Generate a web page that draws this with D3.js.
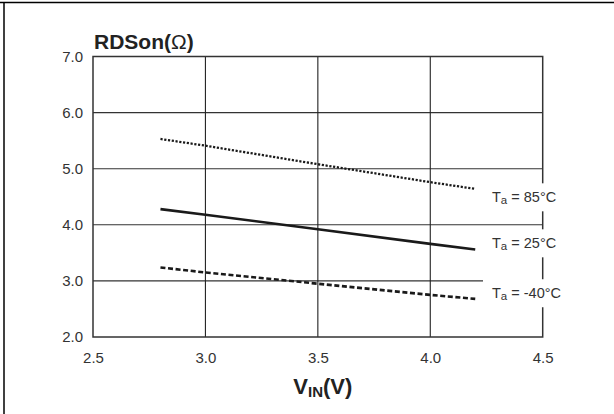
<!DOCTYPE html>
<html><head><meta charset="utf-8">
<script src="https://cdn.jsdelivr.net/npm/d3@7"></script>
<style>
html,body{margin:0;padding:0;background:#fff;}
svg{display:block;}
text{font-family:"Liberation Sans",Arial,Helvetica,sans-serif;}
</style></head>
<body>
<svg id="chart" width="614" height="414"></svg>
<script>
// ---- data ----
const vin = [2.8, 3.0, 3.5, 4.0, 4.2];
const rds85 = [5.53, 5.41, 5.08, 4.76, 4.64];
const rds25 = [4.28, 4.18, 3.92, 3.66, 3.56];
const rdsM40 = [3.24, 3.15, 2.95, 2.75, 2.68];
const seriesNames = ["85°C", "25°C", "-40°C"];
const labelAt = [4.49, 3.67, 2.78];        // label vertical positions in data units
const xTicks = [2.5, 3.0, 3.5, 4.0, 4.5];
const yTicks = [2.0, 3.0, 4.0, 5.0, 6.0, 7.0];

const svg = d3.select("#chart");
const L = 93, R = 542.7, T = 56.5, B = 337;
const x = d3.scaleLinear().domain([2.5, 4.5]).range([L, R]);
const y = d3.scaleLinear().domain([2.0, 7.0]).range([B, T]);
const ink = "#1a1a1a";

// outer border (top & left)
svg.append("line").attr("x1", 0).attr("x2", 614).attr("y1", 2.5).attr("y2", 2.5).attr("stroke", "#000").attr("stroke-width", 1.5);
svg.append("line").attr("x1", 4).attr("x2", 4).attr("y1", 2).attr("y2", 414).attr("stroke", "#000").attr("stroke-width", 1.5);

// grid
svg.append("g").selectAll("line").data(yTicks.slice(1, -1)).join("line")
  .attr("x1", L).attr("x2", R).attr("y1", d => y(d)).attr("y2", d => y(d))
  .attr("stroke", "#333").attr("stroke-width", 1.1);
svg.append("g").selectAll("line").data(xTicks.slice(1, -1)).join("line")
  .attr("y1", T).attr("y2", B).attr("x1", d => x(d)).attr("x2", d => x(d))
  .attr("stroke", "#222").attr("stroke-width", 1.1);

// frame
svg.append("rect").attr("x", L).attr("y", T).attr("width", R - L).attr("height", B - T)
  .attr("fill", "none").attr("stroke", "#333").attr("stroke-width", 1.5);

// axes labels via d3 axes (no ticks, no domain)
const ya = svg.append("g").attr("transform", `translate(${L},0)`)
  .call(d3.axisLeft(y).tickValues(yTicks).tickFormat(d3.format(".1f")).tickSize(0).tickPadding(10));
const xa = svg.append("g").attr("transform", `translate(0,${B})`)
  .call(d3.axisBottom(x).tickValues(xTicks).tickFormat(d3.format(".1f")).tickSize(0).tickPadding(15));
[ya, xa].forEach(g => {
  g.attr("font-size", 15).attr("font-family", '"Liberation Sans",Arial,Helvetica,sans-serif');
  g.select(".domain").remove();
  g.selectAll("text").attr("fill", "#333");
});

// series
const series = [
  {vals: rds85, dash: "2.2,1.6", w: 2.3},
  {vals: rds25, dash: null, w: 2.6},
  {vals: rdsM40, dash: "5,2.6", w: 2.6}
];
const line = d3.line().x(d => x(d[0])).y(d => y(d[1]));
series.forEach(s => {
  svg.append("path").datum(vin.map((v, i) => [v, s.vals[i]]))
    .attr("d", line).attr("fill", "none").attr("stroke", ink)
    .attr("stroke-width", s.w).attr("stroke-dasharray", s.dash);
});

// series labels with white background
seriesNames.forEach((n, i) => {
  const cy = y(labelAt[i]);
  svg.append("rect").attr("x", 483).attr("y", cy - 14).attr("width", 84).attr("height", 28).attr("fill", "#fff");
  const t = svg.append("text").attr("x", 492).attr("y", cy + 5).attr("font-size", 14.5).attr("fill", "#333");
  t.append("tspan").text("T");
  t.append("tspan").attr("font-size", 11.5).attr("dy", 2).text("a");
  t.append("tspan").attr("dy", -2).text(" = " + n);
});

// titles
const yt = svg.append("text").attr("x", 94).attr("y", 49).attr("font-size", 21).attr("font-weight", "bold").attr("fill", "#222");
yt.append("tspan").text("RDSon(");
yt.append("tspan").attr("font-weight", "normal").text("Ω");
yt.append("tspan").text(")");

const xt = svg.append("text").attr("x", (L + R) / 2 + 5).attr("y", 394).attr("text-anchor", "middle")
  .attr("font-size", 22).attr("font-weight", "bold").attr("fill", "#222");
xt.append("tspan").text("V");
xt.append("tspan").attr("font-size", 15).attr("dy", 3).text("IN");
xt.append("tspan").attr("dy", -3).text("(V)");
</script>
</body></html>
